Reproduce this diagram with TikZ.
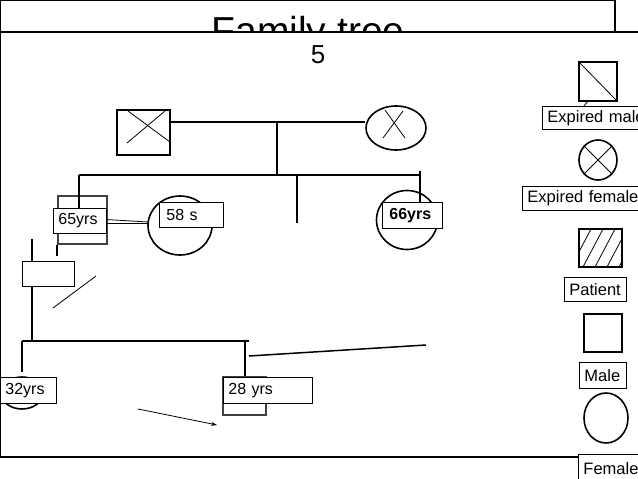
\documentclass[tikz,border=0pt]{standalone}
\usepackage{fontspec}
\setmainfont{Liberation Sans}
\usetikzlibrary{shapes.geometric,arrows.meta}
\begin{document}
\begin{tikzpicture}[x=1pt,y=-1pt,
  sq/.style={draw, rectangle, line width=1.6pt, inner sep=0pt},
  el/.style={draw, ellipse, line width=1.6pt, inner sep=0pt},
  lbox/.style={draw, fill=white, line width=0.9pt, inner xsep=5pt, inner ysep=0pt, align=left, anchor=north west, font=\fontsize{16}{19}\selectfont},
  lg/.style={lbox, font=\fontsize{16.5}{19}\selectfont},
  conn/.style={line width=1.1pt},
  frame/.style={line width=2pt}
]
\useasboundingbox (0,0) rectangle (638,479);
% slide frames
\draw[frame] (0,0) rectangle (615,60);
\node[anchor=base, font=\fontsize{39}{44}\selectfont, inner sep=0pt] (title) at (308,44) {Family tree};
\draw[frame, fill=white] (0,32) rectangle (660,457);
\node[font=\fontsize{26}{30}\selectfont, inner sep=0pt] (five) at (318,55) {5};

% grandparents
\node[sq, minimum width=53, minimum height=45] (gf) at (143.5,132.5) {};
\draw[line width=0.8pt] (128,111) -- (170,142);
\draw[line width=0.8pt] (165,111) -- (127,143);
\node[el, minimum width=60, minimum height=44] (gm) at (396,128) {};
\draw[line width=0.8pt] (383,138) -- (403,111);
\draw[line width=0.8pt] (385,110) -- (405,138);
\coordinate (m1) at (277,122);
\coordinate (s1) at (277,175);
\draw[conn] (gf.east |- m1) -- (gm.west |- m1);
\draw[conn] (m1) -- (s1);

% generation 2
\coordinate (sl) at (79,175);
\coordinate (sr) at (420,175);
\coordinate (srt) at (420,171);
\coordinate (s3) at (297,175);
\coordinate (s3e) at (297,223);
\draw[conn] (sl) -- (sr);
\draw[conn] (s3) -- (s3e);

\node[sq, draw=black!75, line width=2pt, minimum width=49, minimum height=48] (sq65) at (82.5,220) {};
\node[el, minimum width=64, minimum height=59] (c58) at (180,225.5) {};
\node[el, minimum width=61, minimum height=59] (c66) at (407,220) {};

\draw[conn] (sl) -- (79,208) coordinate (sld);
\draw[conn] (srt) -- (420,202) coordinate (srd);

% double marriage line
\coordinate (dl1) at (148,222);
\coordinate (dl2) at (148,223);
\draw[line width=0.8pt] (106,219.5) coordinate (dl0) -- (dl1);
\draw[line width=0.8pt] (106,223) coordinate (dl3) -- (dl2);

% below 65 square
\draw[conn] (sq65.south west) -- ++(0,11) coordinate (u1);
\node[draw, line width=0.9pt, minimum width=52, minimum height=25, inner sep=0pt] (eb) at (48,273.5) {};
\coordinate (v1) at (32,239);
\coordinate (g3) at (32,341);
\draw[conn] (v1) -- (eb.north -| v1);
\draw[conn] (eb.south -| g3) -- (g3);
\coordinate (d1) at (53,308);
\coordinate (d2) at (96,276);
\draw[line width=0.8pt] (d1) -- (d2);

% generation 3
\coordinate (g3l) at (22,341);
\coordinate (g3r) at (249,341);
\coordinate (g3le) at (22,372);
\coordinate (g3m) at (245,341);
\draw[conn] (g3l) -- (g3r);
\draw[conn] (g3l) -- (g3le);
\node[el, minimum width=42, minimum height=32] (f32) at (22,393) {};
\node[sq, draw=black!75, line width=2pt, minimum width=43, minimum height=38] (sq28) at (244.5,396) {};
\draw[conn] (g3m) -- (g3m |- sq28.north);

\coordinate (t1) at (249,356);
\coordinate (t2) at (426,345);
\draw[line width=1.5pt] (t1) -- (t2);
\coordinate (a1) at (138,409);
\coordinate (a2) at (217,425);
\draw[line width=0.8pt, -{Stealth[length=6pt,width=4pt]}] (a1) -- (a2);

% label boxes
\node[lbox, text width=43, minimum height=25] (b65) at (53,208) {65yrs};
\node[lbox, text width=54, minimum height=25] (b58) at (159,202) {\hspace*{2pt}58 s};
\node[lbox, text width=50, minimum height=26] (b66) at (382,202) {\hspace*{2pt}\textbf{66yrs}};
\node[lbox, text width=46, minimum height=26] (b32) at (0,377) {32yrs};
\node[lbox, text width=79, minimum height=26] (b28) at (223,377) {28 yrs};

% legend
\node[sq, minimum width=38, minimum height=39] (em) at (598,81.5) {};
\draw[line width=0.8pt] (em.north west) -- (em.south east);
\draw[line width=0.8pt] (588,101) coordinate (tk1) -- (584,106) coordinate (tk2);
\node[lg, text width=98, minimum height=23] (emb) at (542,106) {Expired male};

\node[el, minimum width=38, minimum height=40] (ef) at (598,160) {};
\draw[line width=0.8pt] (ef.45) -- (ef.225);
\draw[line width=0.8pt] (ef.135) -- (ef.315);
\node[lg, text width=118, minimum height=24] (efb) at (522,186) {Expired female};

\node[sq, minimum width=43, minimum height=38] (pt) at (600.5,248) {};
\begin{scope}
  \clip (pt.south west) rectangle (pt.north east);
  \foreach \xx in {559,571,583,595,607,619} {
    \draw[line width=0.8pt] (\xx,267) -- (\xx+20,229);
  }
\end{scope}
\node[lg, text width=52, minimum height=24] (ptb) at (564,277) {Patient};

\node[sq, minimum width=38, minimum height=38] (ml) at (603,333) {};
\node[lg, text width=37, minimum height=26] (mlb) at (579,362) {Male};

\node[el, minimum width=44, minimum height=50] (fm) at (606,418) {};
\node[lg, text width=57, minimum height=28] (fmb) at (578,454) {Female};
\end{tikzpicture}
\end{document}
